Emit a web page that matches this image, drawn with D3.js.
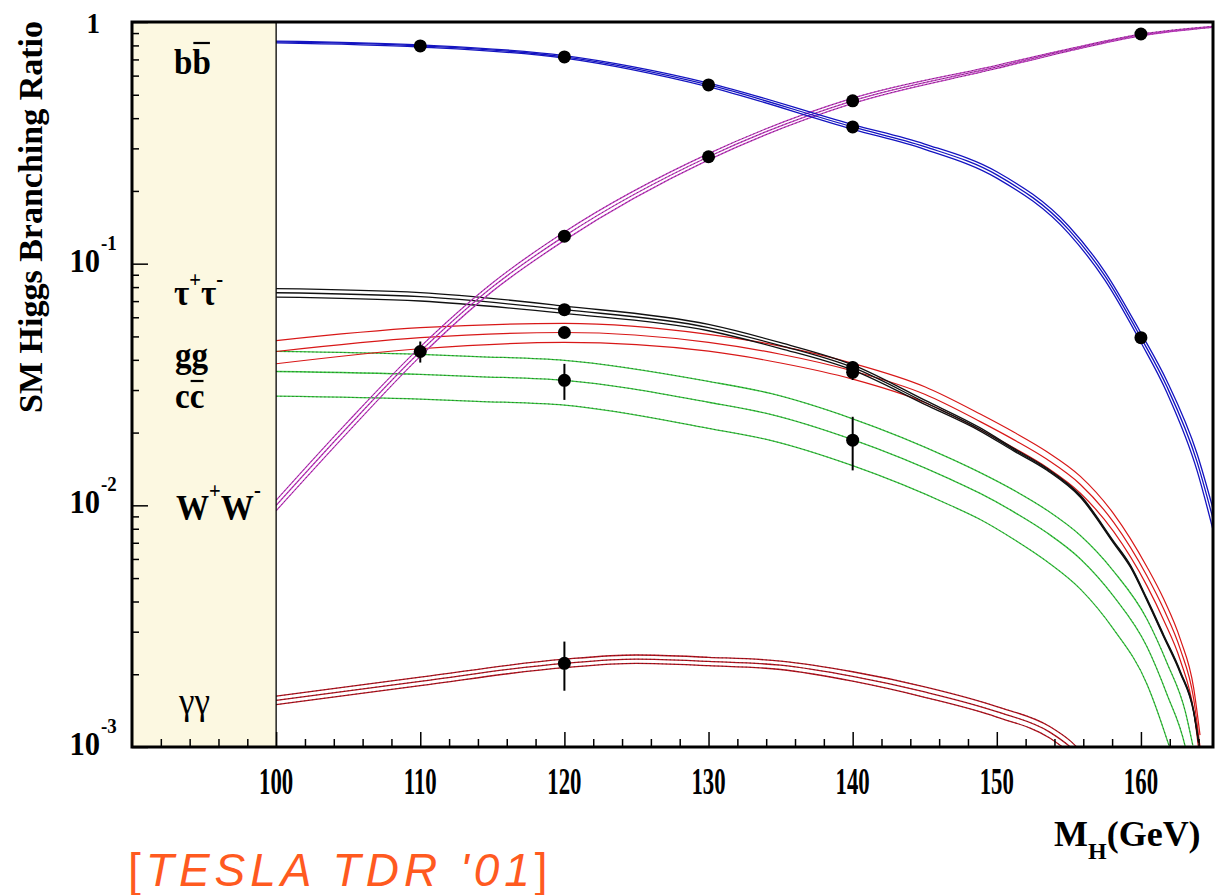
<!DOCTYPE html>
<html>
<head>
<meta charset="utf-8">
<script src="https://cdn.jsdelivr.net/npm/d3@7"></script>
<style>
body { margin: 0; background: #fff; }
svg { display: block; }
</style>
</head>
<body>
<svg id="vis" width="1218" height="895"></svg>
<script>
// --- data (mass in GeV, branching ratio) ---
var bbMass = [100, 110, 120, 130, 140, 145, 150, 155, 157.5, 160, 161.8, 163.9, 165];
var bbBR   = [0.827, 0.796, 0.717, 0.549, 0.368, 0.305, 0.233, 0.138, 0.089, 0.0494, 0.031, 0.0151, 0.0088];
var bbErr  = [0.008, 0.01, 0.012, 0.018, 0.022, 0.025, 0.03, 0.035, 0.04, 0.045, 0.055, 0.08, 0.1];

var wwMass = [100, 105, 110, 115, 120, 130, 140, 150, 155, 160, 165];
var wwBR   = [0.0100, 0.0212, 0.0433, 0.080, 0.130, 0.277, 0.472, 0.652, 0.766, 0.884, 0.955];
var wwErr  = [0.05, 0.05, 0.045, 0.04, 0.04, 0.03, 0.025, 0.015, 0.01, 0.008, 0.005];

var tauMass = [100, 110, 120, 130, 135, 140, 145, 148.85, 151.17, 153.48, 155.8, 158.11, 159.27, 160.42, 161.58, 162.73, 163.66, 164.0];
var tauBR   = [0.0758, 0.073, 0.0645, 0.0544, 0.0458, 0.0372, 0.0267, 0.0206, 0.0170, 0.0141, 0.0109, 0.00703, 0.0056, 0.00407, 0.00288, 0.00204, 0.0014, 0.00105];
var tauErr  = [0.04, 0.04, 0.035, 0.03, 0.028, 0.025, 0.02, 0.015, 0.012, 0.01, 0.01, 0.01, 0.01, 0.01, 0.01, 0.01, 0.01, 0.01];

var ggMass = [100, 110, 120, 130, 135, 140, 145, 148.85, 151.17, 153.48, 155.8, 158.11, 160.42, 161.58, 162.73, 163.66, 164.1];
var ggBR   = [0.0433, 0.0494, 0.0519, 0.0472, 0.0422, 0.036, 0.0288, 0.0222, 0.0187, 0.0155, 0.0122, 0.0085, 0.0051, 0.00372, 0.00254, 0.00158, 0.001];
var ggErr  = [0.11, 0.1, 0.09, 0.08, 0.08, 0.075, 0.075, 0.075, 0.075, 0.075, 0.08, 0.085, 0.09, 0.1, 0.1, 0.11, 0.12];

var ccMass = [100, 110, 113.9, 120, 130, 134.3, 140, 146.8, 148.85, 151.17, 153.48, 155.8, 158.11, 160.42, 161.81, 163.08, 163.6];
var ccBR   = [0.0358, 0.0348, 0.0341, 0.0329, 0.0267, 0.0238, 0.0187, 0.0128, 0.0112, 0.0094, 0.0077, 0.0060, 0.0042, 0.0026, 0.00165, 0.001, 0.0007];
var ccErr  = [0.21, 0.21, 0.21, 0.21, 0.22, 0.22, 0.22, 0.22, 0.22, 0.23, 0.24, 0.25, 0.27, 0.3, 0.35, 0.4, 0.45];

var gamMass = [100, 110, 120, 125, 130, 135, 140, 145, 150, 153.7, 155.1, 157];
var gamBR   = [0.00156, 0.00187, 0.00222, 0.00231, 0.00226, 0.00218, 0.00196, 0.00169, 0.00140, 0.00115, 0.00100, 0.00075];
var gamErr  = [0.04, 0.04, 0.04, 0.04, 0.04, 0.04, 0.045, 0.05, 0.05, 0.055, 0.06, 0.06];

// simulated measurements with error bars
var pointMass = [110, 120, 130, 140, 160,  110, 120, 130, 140, 160,  120, 140,  120, 140,  120, 140,  120];
var pointBR   = [0.796, 0.717, 0.549, 0.368, 0.0494,  0.0433, 0.130, 0.277, 0.472, 0.892,  0.0645, 0.0372,  0.0519, 0.0355,  0.0329, 0.0186,  0.00222];
var pointErr  = [0.01, 0.01, 0.015, 0.02, 0.03,  0.1, 0.03, 0.03, 0.02, 0.01,  0.03, 0.06,  0.03, 0.07,  0.17, 0.25,  0.23];

var xMajorTicks = [100, 110, 120, 130, 140, 150, 160];
var yDecades = [1, 0.1, 0.01, 0.001];
var yDecadeExp = ["", "-1", "-2", "-3"];

var svg = d3.select("#vis");
var margin = {top: 22, right: 5, bottom: 148, left: 132};
var width = 1218, height = 895;

var x = d3.scaleLinear().domain([90, 165]).range([margin.left, width - margin.right]);
var y = d3.scaleLog().domain([0.001, 1]).range([height - margin.bottom, margin.top]);

svg.append("rect").attr("width", width).attr("height", height).attr("fill", "#fff");

// cream panel on the label side
svg.append("rect")
	.attr("x", x(90)).attr("y", y(1))
	.attr("width", x(100) - x(90)).attr("height", y(0.001) - y(1))
	.attr("fill", "#fcf8e1");

svg.append("clipPath").attr("id", "plotclip")
	.append("rect")
	.attr("x", x(100)).attr("y", y(1))
	.attr("width", x(165) - x(100)).attr("height", y(0.001) - y(1));

var plot = svg.append("g").attr("clip-path", "url(#plotclip)");

var lineGen = d3.line()
	.x(function(d) { return x(d[0]); })
	.y(function(d) { return y(d[1]); })
	.curve(d3.curveMonotoneX);

// three lines per channel: central value and +/- error; dotted dark overlay like the scan
function band(mass, br, err, colour, w, dots)
{
	[-1, 0, 1].forEach(function(s) {
		var pts = mass.map(function(m, i) { return [m, br[i] * (1 + s * err[i])]; });
		plot.append("path")
			.attr("d", lineGen(pts))
			.attr("fill", "none")
			.attr("stroke", colour)
			.attr("stroke-width", w);
		if (dots)
		{
			plot.append("path")
				.attr("d", lineGen(pts))
				.attr("fill", "none")
				.attr("stroke", "#222")
				.attr("stroke-opacity", 0.55)
				.attr("stroke-dasharray", "1.5,2.5")
				.attr("stroke-width", 0.9);
		}
	});
}

band(gamMass, gamBR, gamErr, "#b8101c", 1.3, true);
band(ccMass, ccBR, ccErr, "#36c83e", 1.3, true);
band(ggMass, ggBR, ggErr, "#d81818", 1.2, false);
band(tauMass, tauBR, tauErr, "#111", 1.3, false);
band(wwMass, wwBR, wwErr, "#c43cc4", 1.3, true);
band(bbMass, bbBR, bbErr, "#1414c0", 1.3, false);

// error bars and dots
var pts = pointMass.map(function(m, i) { return {m: m, v: pointBR[i], e: pointErr[i]}; });
svg.selectAll("line.err").data(pts).enter().append("line")
	.attr("class", "err")
	.attr("x1", function(d) { return x(d.m); })
	.attr("x2", function(d) { return x(d.m); })
	.attr("y1", function(d) { return y(d.v * (1 + d.e)); })
	.attr("y2", function(d) { return y(d.v * (1 - d.e)); })
	.attr("stroke", "#000").attr("stroke-width", 2);
svg.selectAll("circle.pt").data(pts).enter().append("circle")
	.attr("class", "pt")
	.attr("cx", function(d) { return x(d.m); })
	.attr("cy", function(d) { return y(d.v); })
	.attr("r", 6.5)
	.attr("fill", "#000");

// ticks (inside the frame)
var xMinor = d3.range(90, 165, 2).filter(function(v) { return v % 10 != 0; });
svg.append("g").attr("transform", "translate(0," + y(0.001) + ")")
	.call(d3.axisBottom(x).tickValues(xMinor).tickSize(-8).tickFormat(""))
	.call(function(g) { g.select(".domain").remove(); g.selectAll("line").attr("stroke-width", 1.5); });
svg.append("g").attr("transform", "translate(0," + y(0.001) + ")")
	.call(d3.axisBottom(x).tickValues(xMajorTicks).tickSize(-15).tickFormat(""))
	.call(function(g) { g.select(".domain").remove(); g.selectAll("line").attr("stroke-width", 1.5); });

var yMinor = [];
[0.001, 0.01, 0.1].forEach(function(d) { for (var k = 2; k <= 9; k++) yMinor.push(d * k); });
svg.append("g").attr("transform", "translate(" + x(90) + ",0)")
	.call(d3.axisLeft(y).tickValues(yMinor).tickSize(-7).tickFormat(""))
	.call(function(g) { g.select(".domain").remove(); g.selectAll("line").attr("stroke-width", 1.5); });
svg.append("g").attr("transform", "translate(" + x(90) + ",0)")
	.call(d3.axisLeft(y).tickValues(yDecades).tickSize(-16).tickFormat(""))
	.call(function(g) { g.select(".domain").remove(); g.selectAll("line").attr("stroke-width", 1.5); });

// separator at 100 GeV and frame
svg.append("line")
	.attr("x1", x(100)).attr("x2", x(100)).attr("y1", y(1)).attr("y2", y(0.001))
	.attr("stroke", "#000").attr("stroke-width", 1.3);
svg.append("rect")
	.attr("x", x(90)).attr("y", y(1))
	.attr("width", x(165) - x(90)).attr("height", y(0.001) - y(1))
	.attr("fill", "none").attr("stroke", "#000").attr("stroke-width", 3);

var serif = "'Liberation Serif', 'DejaVu Serif', serif";

// x tick labels
svg.selectAll("text.xl").data(xMajorTicks).enter().append("text")
	.attr("class", "xl")
	.attr("transform", function(d) { return "translate(" + x(d) + "," + 794 + ") scale(0.6,1)"; })
	.attr("text-anchor", "middle")
	.attr("font-family", serif).attr("font-weight", "bold").attr("font-size", 38)
	.text(function(d) { return d; });

// y tick labels
yDecades.forEach(function(d, i) {
	svg.append("text")
		.attr("transform", "translate(100," + (y(d) + (i == 0 ? 11 : 8)) + ") scale(0.9,1)")
		.attr("text-anchor", "end")
		.attr("font-family", serif).attr("font-weight", "bold").attr("font-size", i == 0 ? 30 : 34)
		.text(i == 0 ? "1" : "10");
	if (i > 0)
	{
		svg.append("text")
			.attr("transform", "translate(101," + (y(d) - 14) + ") scale(0.9,1)")
			.attr("font-family", serif).attr("font-weight", "bold").attr("font-size", 21)
			.text(yDecadeExp[i]);
	}
});

// axis titles
svg.append("text")
	.attr("transform", "translate(42,217) rotate(-90)")
	.attr("text-anchor", "middle")
	.attr("font-family", serif).attr("font-weight", "bold").attr("font-size", 34)
	.text("SM Higgs Branching Ratio");

var mh = svg.append("text")
	.attr("transform", "translate(1054,846)")
	.attr("font-family", serif).attr("font-weight", "bold").attr("font-size", 36);
mh.append("tspan").text("M");
mh.append("tspan").attr("font-size", 24).attr("dy", 13).text("H");
mh.append("tspan").attr("dy", -13).text("(GeV)");

// channel labels in the cream panel
function chan(xp, yp, parts, size, weight)
{
	var g = svg.append("g").attr("transform", "translate(" + xp + "," + yp + ") scale(0.92,1)");
	var t = g.append("text")
		.attr("font-family", serif).attr("font-weight", weight || "bold").attr("font-size", size);
	var bars = [];
	parts.forEach(function(p) {
		var s = t.append("tspan").text(p.t);
		if (p.small) s.attr("font-size", size * 0.62);
		if (p.dy) s.attr("dy", p.dy);
		if (p.bar) bars.push([s, p.bar]);
	});
	bars.forEach(function(b) {
		var x0 = b[0].node().getStartPositionOfChar(0).x;
		var w = b[0].node().getComputedTextLength();
		g.append("line")
			.attr("x1", x0 + 1).attr("x2", x0 + w - 1)
			.attr("y1", b[1]).attr("y2", b[1])
			.attr("stroke", "#000").attr("stroke-width", 2.2);
	});
}
chan(174, 74, [{t: "b"}, {t: "b", bar: -31}], 36);
chan(174, 305, [{t: "τ"}, {t: "+", small: true, dy: -18}, {t: "τ", dy: 18}, {t: "-", small: true, dy: -18}], 36);
chan(175, 367, [{t: "gg"}], 36);
chan(175, 408, [{t: "c"}, {t: "c", bar: -27}], 36);
chan(176, 520, [{t: "W"}, {t: "+", small: true, dy: -22}, {t: "W", dy: 22}, {t: "-", small: true, dy: -22}], 36);
chan(179, 714, [{t: "γγ"}], 38, "normal");

// citation
var cite = svg.append("text")
	.attr("x", 128).attr("y", 886)
	.attr("font-family", "'Liberation Sans', 'DejaVu Sans', sans-serif")
	.attr("font-size", 46).attr("fill", "#ff5a1f")
	.attr("letter-spacing", 5);
cite.append("tspan").text("[");
cite.append("tspan").attr("font-style", "italic").text("TESLA TDR '01");
cite.append("tspan").text("]");
</script>
</body>
</html>
